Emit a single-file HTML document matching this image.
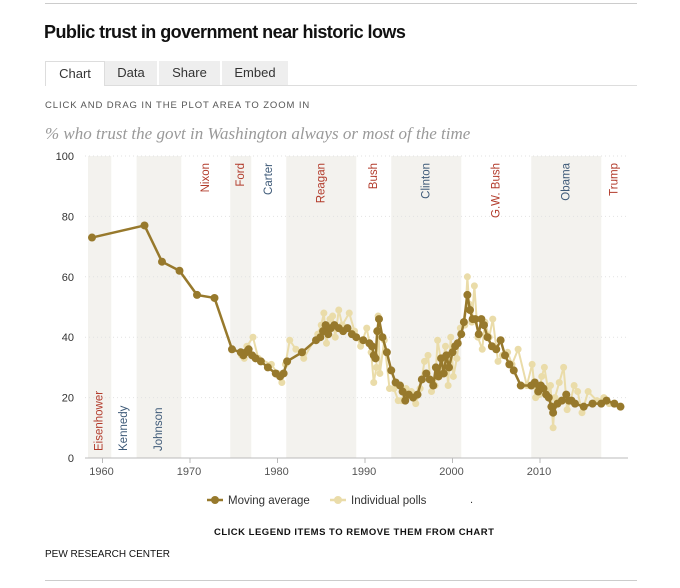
<!DOCTYPE html>
<html><head><meta charset="utf-8">
<style>
body{margin:0;background:#fff;font-family:"Liberation Sans",sans-serif;}
#wrap{position:relative;width:680px;height:588px;overflow:hidden;}
.abs{position:absolute;}
.tab{position:absolute;top:61px;height:24px;line-height:24px;font-size:13px;color:#333;text-align:center;background:#eee;}
</style></head><body>
<div id="wrap">
<div class="abs" style="left:45px;top:3px;width:592px;height:1px;background:#ccc"></div>
<div class="abs" style="left:44px;top:22px;font-size:18px;font-weight:bold;color:#111;letter-spacing:-0.55px">Public trust in government near historic lows</div>
<div class="abs" style="left:45px;top:85px;width:592px;height:1px;background:#ddd"></div>
<div class="tab" style="left:45px;width:58px;background:#fff;border:1px solid #ddd;border-bottom:none">Chart</div>
<div class="tab" style="left:105px;width:52px">Data</div>
<div class="tab" style="left:159px;width:61px">Share</div>
<div class="tab" style="left:222px;width:66px">Embed</div>
<div class="abs" style="left:45px;top:100px;font-size:9.5px;letter-spacing:0.9px;color:#555">CLICK AND DRAG IN THE PLOT AREA TO ZOOM IN</div>
<div class="abs" style="left:45px;top:124px;font-family:'Liberation Serif',serif;font-style:italic;font-size:17px;color:#999">% who trust the govt in Washington always or most of the time</div>
<svg class="abs" style="left:0;top:0" width="680" height="588" id="svg"></svg>
<div class="abs" style="left:214px;top:527px;font-size:9.5px;font-weight:bold;letter-spacing:0.5px;color:#111">CLICK LEGEND ITEMS TO REMOVE THEM FROM CHART</div>
<div class="abs" style="left:45px;top:549px;font-size:10px;color:#111">PEW RESEARCH CENTER</div>
<div class="abs" style="left:45px;top:580px;width:592px;height:1px;background:#ccc"></div>
</div>
<script>
const xTicks=[1960,1970,1980,1990,2000,2010];
const yTicks=[0,20,40,60,80,100];
const presNames=["Eisenhower","Kennedy","Johnson","Nixon","Ford","Carter","Reagan","Bush","Clinton","G.W. Bush","Obama","Trump"];
const presStart=[1953,1961,1963.9,1969,1974.6,1977,1981,1989,1993,2001,2009,2017];
const presParty=["R","D","D","R","R","D","R","R","D","R","D","R"];
const avgYears=[1958.8,1964.8,1966.8,1968.8,1970.8,1972.8,1974.8,1975.8,1976.1,1976.4,1976.7,1977.1,1977.5,1978.1,1978.9,1979.8,1980.3,1980.7,1981.1,1982.8,1984.4,1984.9,1985.2,1985.5,1985.8,1986.1,1986.5,1987,1987.5,1988,1988.5,1989,1989.8,1990.5,1990.8,1991,1991.2,1991.4,1991.6,1992,1992.5,1993,1993.5,1994,1994.3,1994.6,1995,1995.5,1996,1996.5,1997,1997.4,1997.8,1998.1,1998.4,1998.7,1999,1999.3,1999.6,2000,2000.3,2000.6,2001,2001.3,2001.7,2002,2002.3,2002.6,2003,2003.3,2003.6,2004,2004.5,2005,2005.5,2006,2006.5,2007,2007.8,2009,2009.4,2009.8,2010.1,2010.4,2010.7,2011,2011.3,2011.5,2012,2012.5,2013,2013.3,2013.6,2014,2015,2016,2017,2017.6,2018.5,2019.2];
const avgVals=[73,77,65,62,54,53,36,35,34,35,36,34,33,32,30,28,27,28,32,35,39,40,42,44,41,43,44,43,42,43,41,40,39,38,37,34,33,42,46,40,35,29,25,24,22,19,21,20,21,26,28,26,24,30,27,33,28,34,30,35,37,38,41,45,54,49,46,46,41,46,44,40,37,36,39,34,31,29,24,24,25,22,24,23,21,20,17,15,18,19,21,19,19,18,17,18,18,19,18,17];
const pollYears=[1975.9,1976.2,1976.5,1977.2,1977.8,1979.3,1980,1980.5,1980.9,1981.4,1982.1,1983,1984.6,1985,1985.3,1985.6,1986,1986.3,1986.6,1987,1987.4,1988.2,1988.8,1989.5,1990.2,1990.7,1991,1991.3,1991.5,1991.7,1992.2,1992.8,1993.3,1993.8,1994.2,1994.7,1995.3,1995.8,1996.3,1996.8,1997.2,1997.6,1998,1998.3,1998.8,1999.2,1999.5,1999.8,2000.1,2000.5,2000.9,2001.4,2001.7,2001.9,2002.2,2002.5,2002.9,2003.4,2003.7,2004.2,2004.6,2005.2,2005.7,2006.3,2006.8,2007.5,2008.5,2009.1,2009.5,2009.9,2010.2,2010.5,2010.9,2011.2,2011.5,2011.7,2012.2,2012.7,2013.1,2013.5,2013.9,2014.3,2014.8,2015.5,2016.5,2017.3,2017.9];
const pollVals=[34,33,37,40,33,31,28,25,31,39,36,33,41,44,48,38,46,47,40,49,44,48,42,37,43,35,25,30,47,28,39,23,23,19,19,23,22,18,23,32,34,22,24,39,30,37,24,40,27,33,43,44,60,51,45,57,40,36,45,40,46,32,34,35,31,36,24,31,20,21,27,30,23,24,10,20,25,30,16,19,24,22,15,22,19,20,18];
const NS="http://www.w3.org/2000/svg";
const svg=document.getElementById('svg');
const x0=102.5, pxYear=8.75, y0=458, pxVal=3.02, left=85, right=628;
function X(y){return x0+(y-1960)*pxYear;}
function Y(v){return y0-v*pxVal;}
function mk(tag,attrs,parent){const e=document.createElementNS(NS,tag);for(const k in attrs)e.setAttribute(k,attrs[k]);(parent||svg).appendChild(e);return e;}
for(let i=0;i<presNames.length;i++){
  const s=Math.max(X(presStart[i]),left+3), e=i<presNames.length-1?X(presStart[i+1]):right;
  if(i%2===0){const r=mk('rect',{x:s,y:Y(100),width:e-s,height:y0-Y(100),fill:'#f3f2ee'});
    
    }
}
yTicks.forEach(v=>{
  if(v>0){const g=mk('line',{x1:left,x2:right,y1:Y(v),y2:Y(v),stroke:'#e2e2e2','stroke-dasharray':'1,3'});
  
  }
  const t=mk('text',{x:74,y:Y(v)+4,'text-anchor':'end','font-size':11,fill:'#333','font-family':'Liberation Sans, sans-serif'});
  t.textContent=v;
  
  
});
const ax=mk('line',{x1:left,x2:right,y1:y0,y2:y0,stroke:'#bbb'});


xTicks.forEach(yr=>{
  const tk=mk('line',{x1:X(yr),x2:X(yr),y1:y0,y2:y0+5,stroke:'#bbb'});
  
  
  const t=mk('text',{x:X(yr)-1,y:y0+17,'text-anchor':'middle','font-size':11,fill:'#555','font-family':'Liberation Sans, sans-serif'});
  t.textContent=yr;
  
  
});
for(let i=0;i<presNames.length;i++){
  const s=i===0?left+3:X(presStart[i]), e=i<presNames.length-1?X(presStart[i+1]):right;
  const cx=(s+e)/2+3; const bottom=i<3;
  const ty=bottom?451:163;
  const t=mk('text',{x:0,y:0,transform:`translate(${cx},${ty}) rotate(-90)`,'text-anchor':bottom?'start':'end','font-size':11.5,fill:presParty[i]==='R'?'#b23b2b':'#3e5a78','font-family':'Liberation Sans, sans-serif'});
  t.textContent=presNames[i];
  
  
}
const pc='#eadca9';
const pl=mk('polyline',{points:pollYears.map((y,i)=>X(y)+','+Y(pollVals[i])).join(' '),fill:'none',stroke:pc,'stroke-width':2});


pollYears.forEach((y,i)=>{const c=mk('circle',{cx:X(y),cy:Y(pollVals[i]),r:3.5,fill:pc});
  
  });
const ac='#97792c';
const al=mk('polyline',{points:avgYears.map((y,i)=>X(y)+','+Y(avgVals[i])).join(' '),fill:'none',stroke:ac,'stroke-width':2.5});


avgYears.forEach((y,i)=>{const c=mk('circle',{cx:X(y),cy:Y(avgVals[i]),r:4,fill:ac});
  
  });
function leg(x,col,label,name){
  const g=mk('g',{});
  
  
  mk('line',{x1:x,x2:x+16,y1:500,y2:500,stroke:col,'stroke-width':2.5},g);
  mk('circle',{cx:x+8,cy:500,r:4,fill:col},g);
  const t=mk('text',{x:x+21,y:504,'font-size':11.5,fill:'#333','font-family':'Liberation Sans, sans-serif'},g);
  t.textContent=label;
}
leg(207,ac,'Moving average','legend-moving-average');
leg(330,pc,'Individual polls','legend-individual-polls');
const dot=mk('text',{x:470,y:503,'font-size':11,fill:'#333'});
dot.textContent='.';


</script>
</body></html>
